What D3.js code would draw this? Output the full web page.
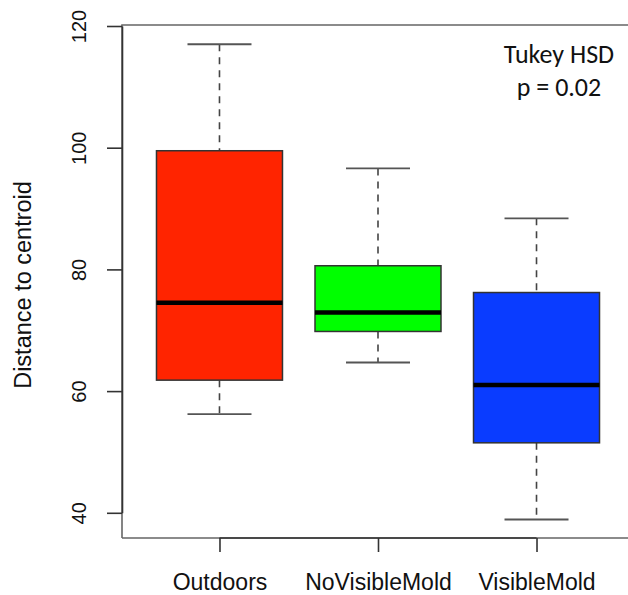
<!DOCTYPE html>
<html><head><meta charset="utf-8">
<script src="https://cdn.jsdelivr.net/npm/d3@7"></script>
<style>body{margin:0;background:#fff}svg{display:block}</style>
</head><body>
<script>
const categories = ["Outdoors", "NoVisibleMold", "VisibleMold"];
const whiskerLow = [56.2, 64.7, 38.9];
const q1 = [61.8, 69.8, 51.5];
const median = [74.5, 72.9, 61.0];
const q3 = [99.5, 80.6, 76.2];
const whiskerHigh = [117.0, 96.6, 88.4];
const colors = ["#ff2400", "#00ff00", "#0a3cff"];
const yTicks = [40, 60, 80, 100, 120];
const yLabel = "Distance to centroid";
const note = ["Tukey HSD", "p = 0.02"];

(function () {
const W = 628, H = 595;
const pLeft = 122, pTop = 25, pBottom = 538, pRight = 634;
const svg = d3.select("body").append("svg").attr("width", W).attr("height", H);

const y = d3.scaleLinear().domain([40, 120]).range([512.8, 26]);
const x = d3.scalePoint().domain(categories).range([pLeft, pRight]).padding(0.615);
const boxW = 126, capW = 64;
const sans = "'Liberation Sans', Arial, Helvetica, sans-serif";

// frame
svg.append("path")
  .attr("d", `M${pLeft},${pBottom}L${pLeft},${pTop}L${W + 5},${pTop}M${pLeft},${pBottom}L${W + 5},${pBottom}`)
  .attr("fill", "none").attr("stroke", "#666").attr("stroke-width", 1.6);

// y axis
const yAx = svg.append("g").attr("transform", `translate(${pLeft},0)`)
  .call(d3.axisLeft(y).tickValues(yTicks).tickSize(15).tickSizeOuter(0).tickPadding(0));
yAx.select(".domain").attr("stroke", "#333").attr("stroke-width", 1.6);
yAx.selectAll(".tick line").attr("stroke", "#333").attr("stroke-width", 1.6);
yAx.selectAll(".tick text").remove();
yAx.selectAll(".tick").append("text")
  .attr("transform", "translate(-36,0) rotate(-90)")
  .attr("text-anchor", "middle").attr("fill", "#111")
  .style("font-family", sans).style("font-size", "20px")
  .text(d => d);

// x axis
const xAx = svg.append("g").attr("transform", `translate(0,${pBottom})`)
  .call(d3.axisBottom(x).tickSize(14).tickSizeOuter(0).tickPadding(0));
xAx.select(".domain").remove();
xAx.append("line").attr("x1", x(categories[0])).attr("x2", x(categories[2]))
  .attr("stroke", "#333").attr("stroke-width", 1.6);
xAx.selectAll(".tick line").attr("stroke", "#333").attr("stroke-width", 1.6);
xAx.selectAll(".tick text").attr("y", 52).attr("dy", 0).attr("fill", "#111")
  .style("font-family", sans).style("font-size", "23px");

// y label
svg.append("text").attr("transform", "translate(31,285) rotate(-90)")
  .attr("text-anchor", "middle").attr("fill", "#111")
  .style("font-family", sans).style("font-size", "23.5px")
  .text(yLabel);

// boxes
categories.forEach((c, i) => {
  const cx = x(c);
  const g = svg.append("g");
  g.append("line").attr("x1", cx).attr("x2", cx).attr("y1", y(whiskerHigh[i])).attr("y2", y(q3[i]))
    .attr("stroke", "#444").attr("stroke-width", 1.6).attr("stroke-dasharray", "7,6");
  g.append("line").attr("x1", cx).attr("x2", cx).attr("y1", y(q1[i])).attr("y2", y(whiskerLow[i]))
    .attr("stroke", "#444").attr("stroke-width", 1.6).attr("stroke-dasharray", "7,6");
  [whiskerHigh[i], whiskerLow[i]].forEach(v => {
    g.append("line").attr("x1", cx - capW / 2).attr("x2", cx + capW / 2).attr("y1", y(v)).attr("y2", y(v))
      .attr("stroke", "#555").attr("stroke-width", 1.8);
  });
  g.append("rect").attr("x", cx - boxW / 2).attr("width", boxW)
    .attr("y", y(q3[i])).attr("height", y(q1[i]) - y(q3[i]))
    .attr("fill", colors[i]).attr("stroke", "#333").attr("stroke-width", 1.5);
  g.append("line").attr("x1", cx - boxW / 2).attr("x2", cx + boxW / 2)
    .attr("y1", y(median[i])).attr("y2", y(median[i]))
    .attr("stroke", "#000").attr("stroke-width", 4.5);
});

// annotation
const t = svg.append("text").attr("text-anchor", "middle").attr("fill", "#111")
  .style("font-family", "Carlito, Lato, 'Open Sans', sans-serif").style("font-size", "26px");
t.append("tspan").attr("x", 559).attr("y", 63).text(note[0]);
t.append("tspan").attr("x", 559).attr("y", 96).text(note[1]);
})();
</script>
</body></html>
